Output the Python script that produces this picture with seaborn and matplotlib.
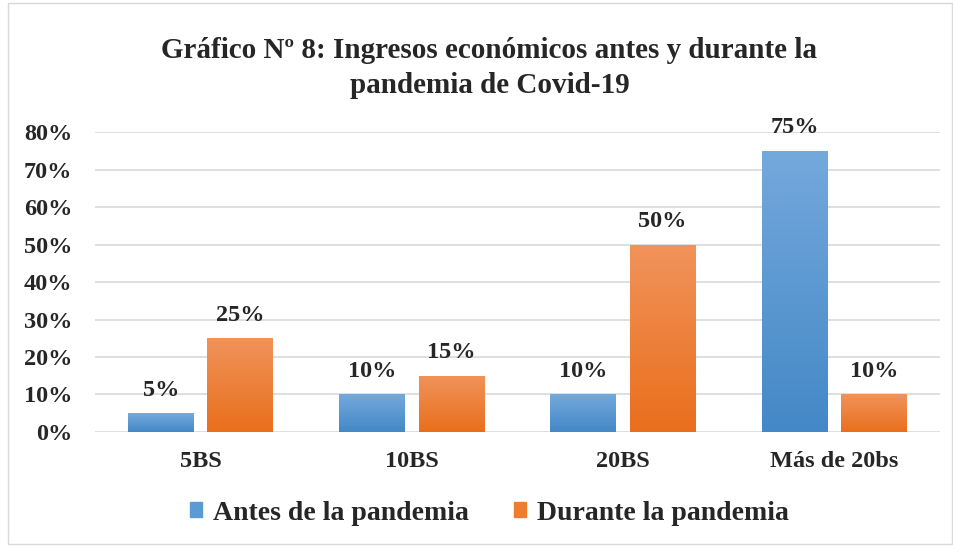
import numpy as np
import pandas as pd
import matplotlib
matplotlib.use('Agg')
import matplotlib.pyplot as plt
import seaborn as sns
from matplotlib.colors import LinearSegmentedColormap
from matplotlib.patches import Rectangle

# data
categorias = ['5BS', '10BS', '20BS', 'Más de 20bs']
antes = [0.05, 0.10, 0.10, 0.75]
durante = [0.25, 0.15, 0.50, 0.10]
series = ['Antes de la pandemia', 'Durante la pandemia']

df = pd.DataFrame({
    'Categoria': categorias * 2,
    'Valor': antes + durante,
    'Serie': [series[0]] * 4 + [series[1]] * 4,
})

sns.set_style('white')
plt.rcParams['font.family'] = ['Liberation Serif', 'DejaVu Serif']
plt.rcParams['font.weight'] = 'bold'

colores = {series[0]: '#5B9BD5', series[1]: '#ED7D31'}
gradientes = {
    series[0]: ('#4488C7', '#74A9DC'),
    series[1]: ('#E96F1C', '#F1935B'),
}

fig = plt.figure(figsize=(9.54, 5.46), dpi=100)
ax = fig.add_axes([0.0996, 0.2088, 0.8854, 0.5494])

sns.barplot(data=df, x='Categoria', y='Valor', hue='Serie', palette=colores,
            width=0.75, gap=0.17, ax=ax, legend=False, zorder=3)

# gradient fill on each bar
grad = np.linspace(0, 1, 256).reshape(-1, 1)
for cont, serie in zip(ax.containers, series):
    cmap = LinearSegmentedColormap.from_list(serie, gradientes[serie])
    for bar in cont:
        x0, y0 = bar.get_x(), bar.get_y()
        w, h = bar.get_width(), bar.get_height()
        bar.set_alpha(0)
        im = ax.imshow(grad, cmap=cmap, origin='lower', aspect='auto',
                       extent=[x0, x0 + w, y0, y0 + h], zorder=3)
        im.set_clip_path(bar)
    ax.bar_label(cont, labels=[f'{v * 100:.0f}%' for v in cont.datavalues],
                 padding=9, fontsize=17.5, fontweight='bold')

ax.set_xlim(-0.5, 3.5)
ax.set_ylim(0, 0.8)
ax.set_yticks(np.arange(0, 0.81, 0.1))
ax.set_yticklabels([f'{t * 100:.0f}%' for t in np.arange(0, 0.81, 0.1)],
                   fontsize=17.5, fontweight='bold')
ax.set_xticks(range(4))
ax.set_xticklabels(categorias, fontsize=17.5, fontweight='bold')
ax.tick_params(axis='y', length=0, pad=16.5)
ax.tick_params(axis='x', length=0, pad=14)
ax.grid(axis='y', color='#D9D9D9', linewidth=1.2, zorder=0)
ax.set_axisbelow(True)
for s in ax.spines.values():
    s.set_visible(False)
ax.set_xlabel('')
ax.set_ylabel('')

fig.text(0.513, 0.875, 'Gráfico Nº 8: Ingresos económicos antes y durante la\npandemia de Covid-19',
         ha='center', va='center', fontsize=21, fontweight='bold', linespacing=1.38)

handles = [Rectangle((0, 0), 1, 1, color=colores[s]) for s in series]
fig.legend(handles, series, loc='center', bbox_to_anchor=(0.513, 0.060), ncol=2,
           frameon=False, fontsize=20, handlelength=0.45, handleheight=0.45,
           handletextpad=0.4, columnspacing=1.6)

# outer frame of the chart area
fig.patches.append(Rectangle((0.008, 0.004), 0.99, 0.99, transform=fig.transFigure,
                             fill=False, edgecolor='#D9D9D9', linewidth=1))

fig.savefig('out.png', dpi=100)
